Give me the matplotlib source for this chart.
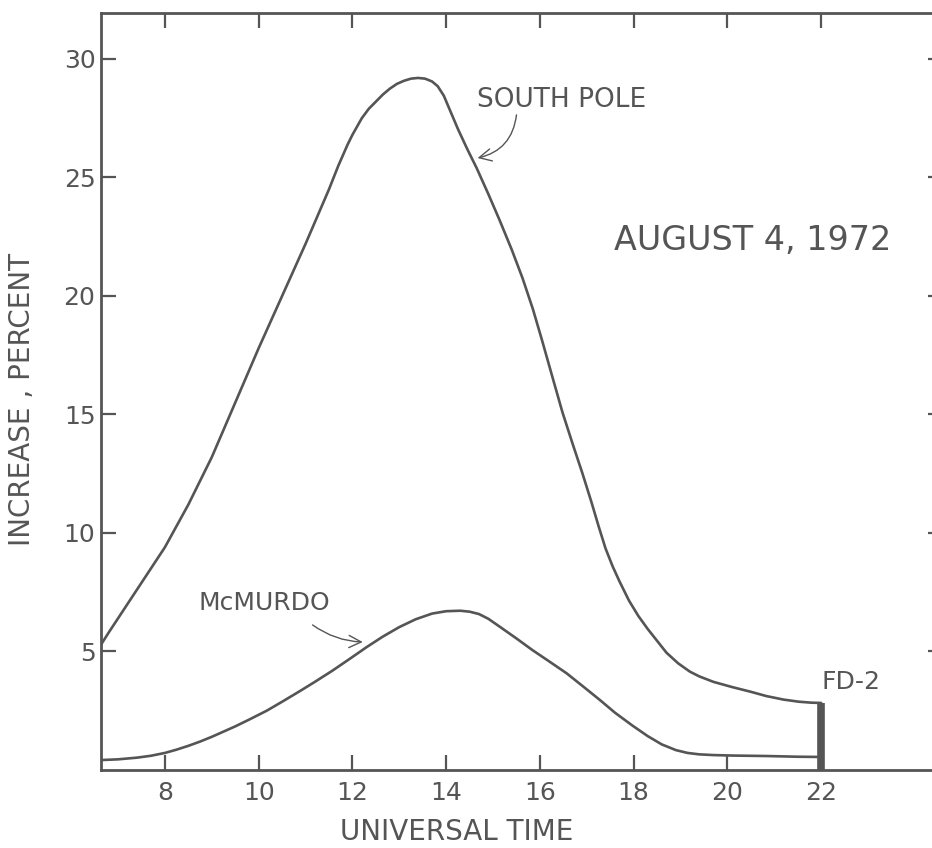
import matplotlib
matplotlib.use("Agg")
import matplotlib.pyplot as plt

# ---- data ----
south_t = [6.64, 6.8, 7.0, 7.25, 7.5, 7.75, 8.0, 8.25, 8.5, 8.75, 9.0, 9.25,
           9.5, 9.75, 10.0, 10.25, 10.5, 10.75, 11.0, 11.25, 11.5, 11.7,
           11.9, 12.0, 12.1, 12.2, 12.35, 12.5, 12.65, 12.8, 12.95, 13.1,
           13.25, 13.4, 13.55, 13.7, 13.82, 13.95, 14.1, 14.25, 14.45,
           14.65, 14.9, 15.14, 15.4, 15.63, 15.85, 16.05, 16.25, 16.48,
           16.7, 16.91, 17.1, 17.25, 17.4, 17.55, 17.7, 17.9, 18.1, 18.3,
           18.5, 18.7, 18.95, 19.2, 19.4, 19.7, 20.1, 20.5, 20.83, 21.2,
           21.53, 21.8, 22.0]
south_v = [5.3, 5.8, 6.4, 7.15, 7.9, 8.65, 9.4, 10.3, 11.2, 12.2, 13.2, 14.35,
           15.5, 16.65, 17.8, 18.9, 20.0, 21.1, 22.2, 23.35, 24.5, 25.5,
           26.4, 26.8, 27.15, 27.5, 27.9, 28.2, 28.5, 28.75, 28.95, 29.08,
           29.17, 29.2, 29.17, 29.05, 28.85, 28.45, 27.75, 27.05, 26.2,
           25.4, 24.3, 23.2, 21.95, 20.75, 19.45, 18.1, 16.7, 15.1,
           13.75, 12.5, 11.3, 10.3, 9.35, 8.6, 7.95, 7.15, 6.5, 5.95,
           5.45, 4.95, 4.5, 4.15, 3.95, 3.72, 3.5, 3.3, 3.12, 2.97,
           2.88, 2.84, 2.83]

mcm_t = [6.64, 7.0, 7.4, 7.7, 8.0, 8.25, 8.5, 8.75, 9.0, 9.25, 9.5, 9.8,
         10.17, 10.5, 10.88, 11.2, 11.58, 11.95, 12.3, 12.65, 13.0, 13.35,
         13.7, 14.0, 14.3, 14.5, 14.7, 14.9, 15.14, 15.5, 15.84, 16.2,
         16.57, 16.9, 17.27, 17.6, 17.97, 18.3, 18.6, 18.9, 19.15, 19.4,
         19.7, 20.1, 20.83, 21.5, 22.0]
mcm_v = [0.42, 0.45, 0.52, 0.6, 0.72, 0.86, 1.02, 1.2, 1.4, 1.62, 1.84, 2.13,
         2.5, 2.88, 3.33, 3.72, 4.2, 4.7, 5.18, 5.63, 6.03, 6.36,
         6.6, 6.7, 6.72, 6.68, 6.58, 6.38, 6.05, 5.55, 5.06, 4.58,
         4.08, 3.56, 2.97, 2.42, 1.88, 1.43, 1.08, 0.84, 0.72, 0.66,
         0.63, 0.61, 0.59, 0.56, 0.55]

fd2_t = 22.0
fd2_top = 2.83

x_ticks = [8, 10, 12, 14, 16, 18, 20, 22]
x_labels = ["8", "10", "12", "14", "16", "18", "20", "22"]
y_ticks = [5, 10, 15, 20, 25, 30]
y_labels = ["5", "10", "15", "20", "25", "30"]

C = "#555555"
plt.rcParams['font.family'] = ['DejaVu Sans']

W, H = 932, 848
L, R, T, B = 101, 943, 13, 770
fig = plt.figure(figsize=(W / 100, H / 100), dpi=100)
ax = fig.add_axes([L / W, (H - B) / H, (R - L) / W, (B - T) / H])

ax.set_xlim(6.636, 24.6)
ax.set_ylim(0, 31.94)

ax.plot(south_t, south_v, color=C, lw=1.9, solid_capstyle='round', solid_joinstyle='round')
ax.plot(mcm_t, mcm_v, color=C, lw=1.9, solid_capstyle='round', solid_joinstyle='round')
ax.plot([fd2_t, fd2_t], [0, fd2_top], color=C, lw=5.5, solid_capstyle='butt')

for s in ax.spines.values():
    s.set_color(C)
    s.set_linewidth(2.0)

ax.set_xticks(x_ticks)
ax.set_xticklabels(x_labels)
ax.set_yticks(y_ticks)
ax.set_yticklabels(y_labels)
ax.tick_params(axis='both', which='major', direction='in', length=11,
               width=1.6, color=C, labelcolor=C, labelsize=18,
               top=True, right=True)
ax.tick_params(axis='x', pad=8)
ax.tick_params(axis='y', pad=4)

ax.set_xlabel("UNIVERSAL TIME", fontsize=20, color=C)
ax.xaxis.set_label_coords((457 - L) / (R - L), -(818 - B) / (B - T))
ax.set_ylabel("INCREASE , PERCENT", fontsize=20, color=C)
ax.yaxis.set_label_coords(-(L - 36) / (R - L), (B - 400) / (B - T))

ax.text(16.46, 28.27, "SOUTH POLE", fontsize=19, color=C, ha='center', va='center')
ax.annotate("", xy=(14.67, 25.82), xytext=(15.5, 27.64),
            arrowprops=dict(arrowstyle='->', color=C, lw=1.0,
                            connectionstyle='arc3,rad=-0.35',
                            mutation_scale=22, shrinkA=0, shrinkB=0))

ax.text(10.13, 7.05, "McMURDO", fontsize=18, color=C, ha='center', va='center')
ax.annotate("", xy=(12.22, 5.4), xytext=(11.15, 6.12),
            arrowprops=dict(arrowstyle='->', color=C, lw=1.0,
                            connectionstyle='arc3,rad=0.15',
                            mutation_scale=22, shrinkA=0, shrinkB=0))

ax.text(20.55, 22.36, "AUGUST 4, 1972", fontsize=24, color=C, ha='center', va='center')
ax.text(22.0, 3.7, "FD-2", fontsize=18, color=C, ha='left', va='center')

fig.savefig("out.png", dpi=100)
